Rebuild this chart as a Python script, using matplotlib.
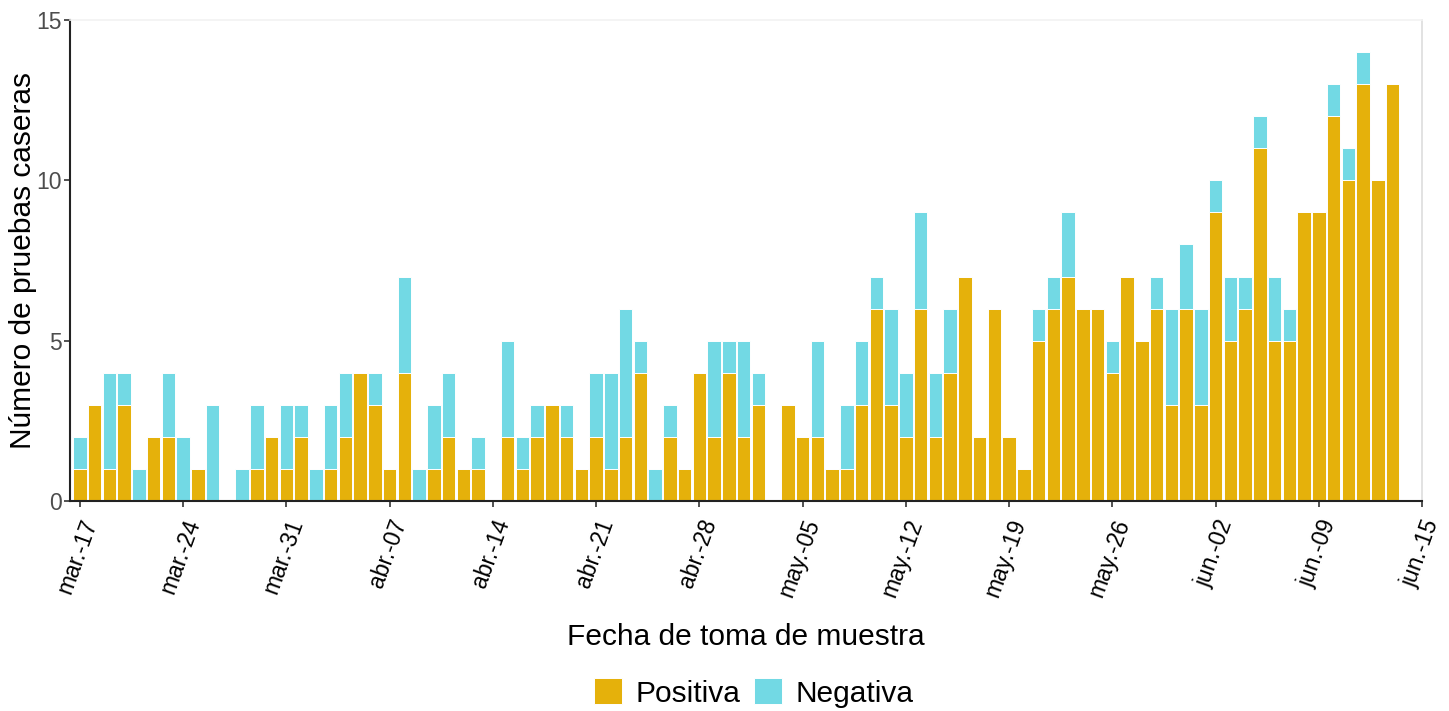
import matplotlib
matplotlib.use("Agg")
import matplotlib.pyplot as plt
import matplotlib.dates as mdates
import pandas as pd

plt.rcParams['font.family'] = ['Liberation Sans', 'DejaVu Sans']

# daily sample dates (mar-17 .. jun-14)
dates = pd.date_range('2021-03-17', '2021-06-14', freq='D')

positiva = [1, 3, 1, 3, 0, 2, 2, 0, 1, 0, 0, 0, 1, 2, 1,
            2, 0, 1, 2, 4, 3, 1, 4, 0, 1, 2, 1, 1, 0, 2,
            1, 2, 3, 2, 1, 2, 1, 2, 4, 0, 2, 1, 4, 2, 4,
            2, 3, 0, 3, 2, 2, 1, 1, 3, 6, 3, 2, 6, 2, 4,
            7, 2, 6, 2, 1, 5, 6, 7, 6, 6, 4, 7, 5, 6, 3,
            6, 3, 9, 5, 6, 11, 5, 5, 9, 9, 12, 10, 13, 10, 13]
negativa = [1, 0, 3, 1, 1, 0, 2, 2, 0, 3, 0, 1, 2, 0, 2,
            1, 1, 2, 2, 0, 1, 0, 3, 1, 2, 2, 0, 1, 0, 3,
            1, 1, 0, 1, 0, 2, 3, 4, 1, 1, 1, 0, 0, 3, 1,
            3, 1, 0, 0, 0, 3, 0, 2, 2, 1, 3, 2, 3, 2, 2,
            0, 0, 0, 0, 0, 1, 1, 2, 0, 0, 1, 0, 0, 1, 3,
            2, 3, 1, 2, 1, 1, 2, 1, 0, 0, 1, 1, 1, 0, 0]

tick_dates = pd.date_range('2021-03-17', periods=14, freq='7D')
tick_labels = ['mar.-17', 'mar.-24', 'mar.-31', 'abr.-07', 'abr.-14', 'abr.-21',
               'abr.-28', 'may.-05', 'may.-12', 'may.-19', 'may.-26', 'jun.-02',
               'jun.-09', 'jun.-15']
y_ticks = [0, 5, 10, 15]

col_pos = '#E5B10B'
col_neg = '#72D9E4'

fig = plt.figure(figsize=(14.49, 7.11), dpi=100)
ax = fig.add_axes([0.0483, 0.2954, 0.9331, 0.6765])

ax.bar(dates, positiva, width=0.92, color=col_pos, edgecolor='white',
       linewidth=0.7, label='Positiva')
ax.bar(dates, negativa, bottom=positiva, width=0.92, color=col_neg,
       edgecolor='white', linewidth=0.7, label='Negativa')

start = mdates.date2num(dates[0])
ax.set_xlim(start - 0.67, start + 90.5)
ax.set_ylim(0, 15)

ax.set_xticks(tick_dates)
ax.set_xticklabels(tick_labels, rotation=70, ha='right', va='top',
                   rotation_mode='anchor', fontsize=16.5, color='black')
ax.set_yticks(y_ticks)
ax.set_yticklabels([str(v) for v in y_ticks], fontsize=16.5, color='#4d4d4d')
ax.tick_params(axis='both', length=4, width=1.2, color='#333333')
ax.tick_params(axis='x', pad=7)
ax.tick_params(axis='y', pad=2)

for s in ['left', 'bottom']:
    ax.spines[s].set_color('#222222')
    ax.spines[s].set_linewidth(1.5)
ax.spines['right'].set_color('#dddddd')
ax.spines['right'].set_linewidth(1.2)
ax.spines['top'].set_color('#f2f2f2')
ax.spines['top'].set_linewidth(1.2)

ax.set_xlabel('Fecha de toma de muestra', fontsize=21.5, labelpad=16)
fig.text(23 / 1449, 1 - 261 / 711, 'Número de pruebas caseras', rotation=90,
         ha='center', va='center', fontsize=21.5)

fig.legend(loc='center', bbox_to_anchor=(0.52, 1 - 693 / 711), ncol=2,
           frameon=False, fontsize=21.5, handlelength=0.95, handleheight=0.95,
           handletextpad=0.45, columnspacing=0.45, borderpad=0.1)

fig.savefig('out.png', dpi=100)
